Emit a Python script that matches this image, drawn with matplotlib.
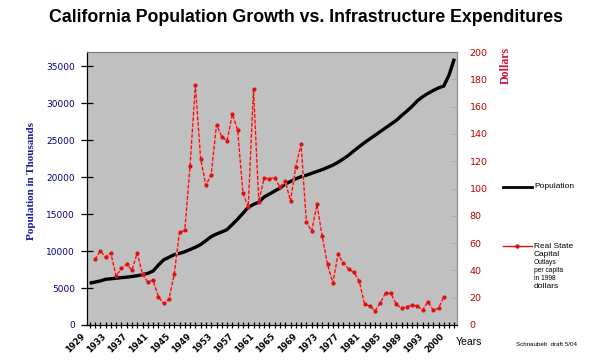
import numpy as np
import matplotlib
matplotlib.use('Agg')
import matplotlib.pyplot as plt
import matplotlib.transforms as mtransforms
from matplotlib.lines import Line2D

# population in thousands, one value per category (70 categories)
population = [5650, 5800, 5950, 6170, 6250, 6320, 6400, 6460, 6560, 6660,
              6800, 6980, 7300, 8100, 8800, 9150, 9500, 9680, 9900, 10200,
              10500, 10880, 11400, 11950, 12300, 12580, 12900, 13600, 14300, 15100,
              15900, 16300, 16600, 17300, 17700, 18100, 18500, 19050, 19400, 19750,
              20050, 20250, 20500, 20750, 21000, 21300, 21600, 22000, 22450, 22950,
              23550, 24100, 24650, 25150, 25650, 26150, 26650, 27150, 27650, 28300,
              28900, 29550, 30300, 30850, 31300, 31700, 32050, 32300, 33800, 36000]

# real state capital outlays per capita (1998 dollars), categories 1..67
outlays = [48.0, 54.2, 49.9, 52.8, 35.8, 41.4, 44.5, 40.1, 52.8, 37.2,
           31.4, 32.8, 20.7, 15.8, 18.8, 37.2, 67.9, 69.3, 116.8, 175.7,
           121.7, 102.2, 110.2, 146.7, 138.0, 135.0, 154.5, 142.8, 96.6, 86.4,
           172.6, 90.0, 107.7, 107.2, 108.0, 101.0, 105.6, 90.7, 116.1, 132.3,
           75.4, 68.8, 88.3, 65.0, 44.5, 30.7, 51.8, 45.3, 41.0, 38.5,
           32.3, 15.3, 13.9, 10.4, 16.3, 23.6, 23.1, 15.3, 12.2, 13.4,
           14.6, 13.9, 10.9, 17.0, 10.9, 12.2, 20.7]

year_labels = ['1929', '1933', '1937', '1941', '1945', '1949', '1953', '1957', '1961',
               '1965', '1969', '1973', '1977', '1981', '1985', '1989', '1993', '2000']

pop_x = np.arange(len(population))
out_x = np.arange(1, len(outlays) + 1)
label_pos = np.arange(0, 4 * len(year_labels), 4)

fig = plt.figure(figsize=(6.03, 3.63), dpi=100)
fig.patch.set_facecolor('white')
ax = fig.add_axes([87/603, 1 - 325/363, 370/603, 273/363])
ax.set_facecolor('#c0c0c0')
ax2 = ax.twinx()

ax.plot(pop_x, population, color='black', linewidth=2.4, solid_capstyle='butt', zorder=3)
ax2.plot(out_x, outlays, color='#f4a0a0', linewidth=1.4, zorder=2)
ax2.plot(out_x, outlays, color='#dd1010', linewidth=0.9, linestyle=(0, (3, 1.5)),
         marker='o', markersize=3.0, markeredgewidth=0, zorder=3)

ax.set_xlim(-0.5, len(population) - 0.5)
ax.set_ylim(0, 36900)
ax2.set_ylim(0, 200)

ax.set_yticks(np.arange(0, 35001, 5000))
ax.tick_params(axis='y', direction='inout', length=9, width=0.9, colors='black',
               labelcolor='#000080', labelsize=6.5, pad=4)
ax2.set_yticks(np.arange(0, 201, 20))
ax2.tick_params(axis='y', direction='in', length=4, width=0.6, colors='#a8a8a8',
                labelcolor='#c00000', labelsize=6.8, pad=9)

ax.set_xticks(label_pos)
ax.set_xticklabels(year_labels, rotation=45, ha='right', va='top',
                   rotation_mode='anchor', fontsize=6, fontweight='bold')
ax.set_xticks(np.arange(0, len(population)), minor=True)
ax.tick_params(axis='x', which='both', direction='inout', length=5, width=0.9,
               colors='black', pad=2)
offset = mtransforms.ScaledTranslation(-9/100, 0, fig.dpi_scale_trans)
for lab in ax.get_xticklabels():
    lab.set_transform(lab.get_transform() + offset)

for a in (ax, ax2):
    a.spines['left'].set_color('black')
    a.spines['bottom'].set_color('black')
    a.spines['top'].set_color('#808080')
    a.spines['right'].set_color('#909090')

fig.text(0.508, 1 - 18/363, 'California Population Growth vs. Infrastructure Expenditures',
         ha='center', va='center', fontsize=12.8, fontweight='bold', family='Liberation Sans')
fig.text(32/603, 1 - 181/363, 'Population in Thousands', rotation=90, ha='center',
         va='center', fontsize=8, fontweight='bold', family='Liberation Serif', color='#1a1aa0')
fig.text(506/603, 1 - 65/363, 'Dollars', rotation=90, ha='center', va='center',
         fontsize=8.5, fontweight='bold', family='Liberation Serif', color='#cc1040')
fig.text(469/603, 1 - 342/363, 'Years', ha='center', va='center', fontsize=7.5,
         family='Liberation Sans')
fig.text(547/603, 1 - 344/363, 'Schnaubelt  draft 5/04', ha='center', va='center',
         fontsize=4.5, family='Liberation Sans')

# legend
fig.add_artist(Line2D([503/603, 532/603], [1 - 187/363, 1 - 187/363],
                      color='black', linewidth=2, transform=fig.transFigure))
fig.text(534/603, 1 - 187/363, 'Population', ha='left', va='center', fontsize=6,
         family='Liberation Sans')
fig.add_artist(Line2D([503/603, 532/603], [1 - 246/363, 1 - 246/363],
                      color='#dd1010', linewidth=1, transform=fig.transFigure))
fig.add_artist(Line2D([517/603], [1 - 246/363], color='#dd1010', marker='o',
                      markersize=3.2, markeredgewidth=0, transform=fig.transFigure))
legend_lines = [('Real State', 246, 6), ('Capital', 254, 6), ('Outlays', 262, 4.8),
                ('per capita', 270, 4.8), ('in 1998', 278, 4.8), ('dollars', 287, 6)]
for txt, y, fs in legend_lines:
    fig.text(534/603, 1 - y/363, txt, ha='left', va='center', fontsize=fs,
             family='Liberation Sans')

fig.savefig('out.png', dpi=100)
